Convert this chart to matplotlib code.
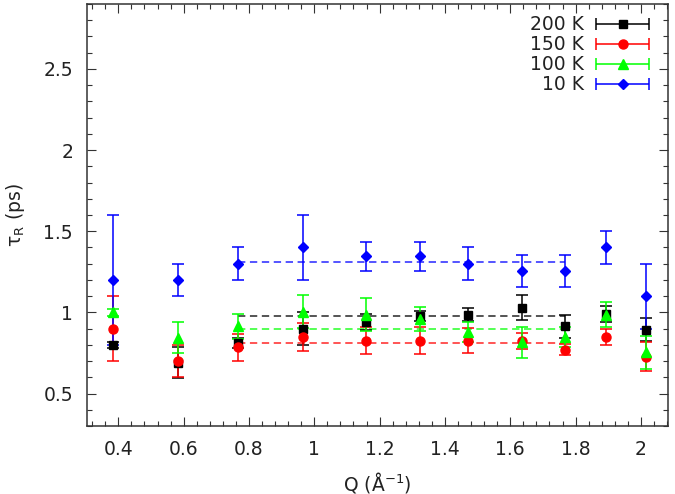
import numpy as np
import matplotlib
matplotlib.use("Agg")
import matplotlib.pyplot as plt
from matplotlib.ticker import MultipleLocator
from matplotlib.legend_handler import HandlerErrorbar
from matplotlib.container import ErrorbarContainer

# Q values (1/Angstrom)
Q = [0.385, 0.582, 0.767, 0.964, 1.157, 1.324, 1.470, 1.635, 1.769, 1.894, 2.015]

# 200 K
t200 = [0.80, 0.69, 0.81, 0.90, 0.94, 0.98, 0.986, 1.03, 0.914, 0.99, 0.893]
e200 = [0.02, 0.094, 0.03, 0.10, 0.05, 0.03, 0.041, 0.078, 0.07, 0.05, 0.07]
# 150 K
t150 = [0.90, 0.70, 0.784, 0.846, 0.825, 0.825, 0.826, 0.825, 0.77, 0.846, 0.728]
e150 = [0.20, 0.10, 0.084, 0.086, 0.083, 0.083, 0.077, 0.05, 0.035, 0.05, 0.088]
# 100 K
t100 = [1.00, 0.845, 0.914, 1.005, 0.986, 0.959, 0.879, 0.815, 0.848, 0.986, 0.753]
e100 = [0.02, 0.097, 0.077, 0.10, 0.10, 0.075, 0.062, 0.097, 0.06, 0.075, 0.10]
# 10 K
t10 = [1.20, 1.20, 1.30, 1.40, 1.346, 1.346, 1.30, 1.255, 1.255, 1.40, 1.10]
e10 = [0.40, 0.10, 0.10, 0.20, 0.09, 0.09, 0.10, 0.10, 0.10, 0.10, 0.20]

# mean values (dashed lines) over Q[2]..Q[8]
means = {"200 K": 0.975, "150 K": 0.81, "100 K": 0.90, "10 K": 1.31}

labels = ["200 K", "150 K", "100 K", "10 K"]
colors = ["#000000", "#ff0000", "#00ff00", "#0000ff"]
markers = ["s", "o", "^", "D"]
msizes = [5.5, 6.5, 6.5, 4.8]
series = [(t200, e200), (t150, e150), (t100, e100), (t10, e10)]

fig = plt.figure(figsize=(6.75, 4.94), dpi=100)
ax = fig.add_axes([87/675, 1-426/494, (668-87)/675, (426-4)/494])

for lab, col in zip(labels, colors):
    ax.plot([Q[2], Q[8]], [means[lab]]*2, color=col, lw=1.1,
            dashes=(4.8, 3.0), alpha=0.85, zorder=1)

proxies = []
for (t, e), lab, col, mk, ms in zip(series, labels, colors, markers, msizes):
    ax.errorbar(Q, t, yerr=e, fmt=mk, color=col, ms=ms, mec=col,
                elinewidth=1.1, capsize=4, capthick=1.1, zorder=3)
    p = ax.errorbar([np.nan], [np.nan], xerr=[np.nan], fmt=mk, color=col,
                    ms=ms, mec=col, elinewidth=1.1, capsize=4, capthick=1.1,
                    label=lab)
    proxies.append(p)

ax.set_xlim(0.304, 2.083)
ax.set_ylim(0.3, 2.9)
ax.xaxis.set_major_locator(MultipleLocator(0.2))
ax.xaxis.set_minor_locator(MultipleLocator(0.04))
ax.yaxis.set_major_locator(MultipleLocator(0.5))
ax.yaxis.set_minor_locator(MultipleLocator(0.1))
ax.set_yticks([0.5, 1, 1.5, 2, 2.5])
ax.set_yticklabels(["0.5", "1", "1.5", "2", "2.5"])
ax.set_xticks([0.4, 0.6, 0.8, 1.0, 1.2, 1.4, 1.6, 1.8, 2.0])
ax.set_xticklabels(["0.4", "0.6", "0.8", "1", "1.2", "1.4", "1.6", "1.8", "2"])

ax.tick_params(which="both", direction="in", top=True, right=True,
               colors="#333333", labelcolor="#222222", labelsize=13.5, width=0.8)
ax.tick_params(which="major", length=6.5, pad=10)
ax.tick_params(which="minor", length=3.6)
for s in ax.spines.values():
    s.set_linewidth(1.1)
    s.set_color("#333333")

ax.set_xlabel(r"Q (Å$^{-1}$)", fontsize=13.5, color="#222222", labelpad=8)
ax.set_ylabel(r"$\mathregular{\tau_R}$ (ps)", fontsize=13.5, color="#222222", labelpad=12)

leg = ax.legend(handles=proxies, labels=labels, loc="upper right",
                bbox_to_anchor=(0.988, 1.0), frameon=False, markerfirst=False,
                fontsize=13.5, handlelength=2.9, handletextpad=0.6,
                labelspacing=0.05, borderaxespad=0.2,
                handler_map={ErrorbarContainer: HandlerErrorbar(xerr_size=1.4)})
for txt in leg.get_texts():
    txt.set_color("#222222")

fig.savefig("out.png", dpi=100)
